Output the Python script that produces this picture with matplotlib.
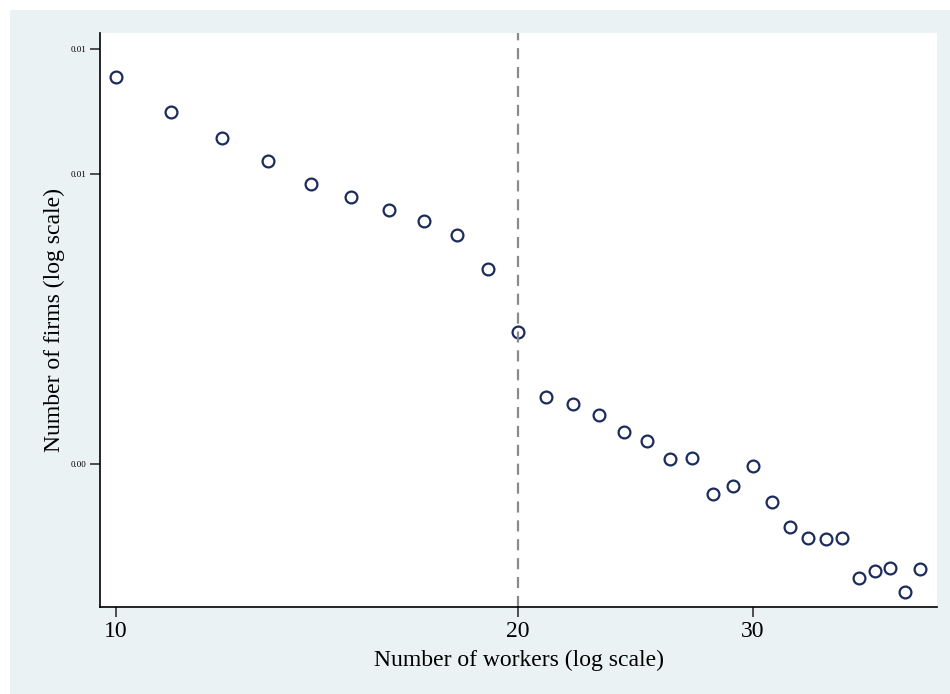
import matplotlib
matplotlib.use("Agg")
import matplotlib.pyplot as plt
from matplotlib.patches import Rectangle
from matplotlib.ticker import FixedLocator, FormatStrFormatter, NullLocator

# number of workers and share of firms
workers = list(range(10, 41))
firms = [0.01370, 0.01224, 0.01125, 0.01042, 0.00969, 0.00928, 0.00889, 0.00860,
         0.00820, 0.00736, 0.00599, 0.00485, 0.00475, 0.00458, 0.00433, 0.00420,
         0.00397, 0.00398, 0.00354, 0.00363, 0.00388, 0.00345, 0.00318, 0.00307,
         0.00306, 0.00307, 0.00270, 0.00276, 0.00279, 0.00258, 0.00278]
x_ticks = [10, 20, 30]
y_ticks = [0.015, 0.01, 0.0039]
cutoff = 20

plt.rcParams['font.family'] = ['Liberation Serif', 'DejaVu Serif']

fig = plt.figure(figsize=(9.5, 6.94), dpi=100, facecolor="white")
fig.patches.append(Rectangle((10 / 950, 0), 1, 684 / 694, transform=fig.transFigure,
                             facecolor="#eaf2f3", edgecolor="none", zorder=-10))
ax = fig.add_axes([100 / 950, 87 / 694, 837 / 950, 574 / 694])
ax.set_facecolor("white")

ax.plot(workers, firms, linestyle="none", marker="o", markersize=8.5,
        markerfacecolor="none", markeredgecolor="#1a2b5c", markeredgewidth=1.6)
ax.axvline(cutoff, color="#8a8a8a", linestyle=(0, (5, 3.5)), linewidth=1.6)

ax.set_xscale("log")
ax.set_yscale("log")
ax.set_xlim(9.728, 41.2)
ax.set_ylim(0.002455, 0.0158)

ax.xaxis.set_major_locator(FixedLocator(x_ticks))
ax.xaxis.set_major_formatter(FormatStrFormatter("%d"))
ax.xaxis.set_minor_locator(NullLocator())
ax.yaxis.set_major_locator(FixedLocator(y_ticks))
ax.yaxis.set_major_formatter(FormatStrFormatter("%.2f"))
ax.yaxis.set_minor_locator(NullLocator())

ax.tick_params(axis="x", labelsize=17, length=7, width=1.2, pad=3, color="#333333")
ax.tick_params(axis="y", labelsize=6.5, length=7, width=1.2, pad=3, color="#333333")

for side in ["top", "right"]:
    ax.spines[side].set_visible(False)
for side in ["left", "bottom"]:
    ax.spines[side].set_linewidth(1.2)

ax.set_xlabel("Number of workers (log scale)", fontsize=17, labelpad=6)
ax.set_ylabel("Number of firms (log scale)", fontsize=17, labelpad=4)

fig.savefig("out.png", dpi=100, facecolor="white")
